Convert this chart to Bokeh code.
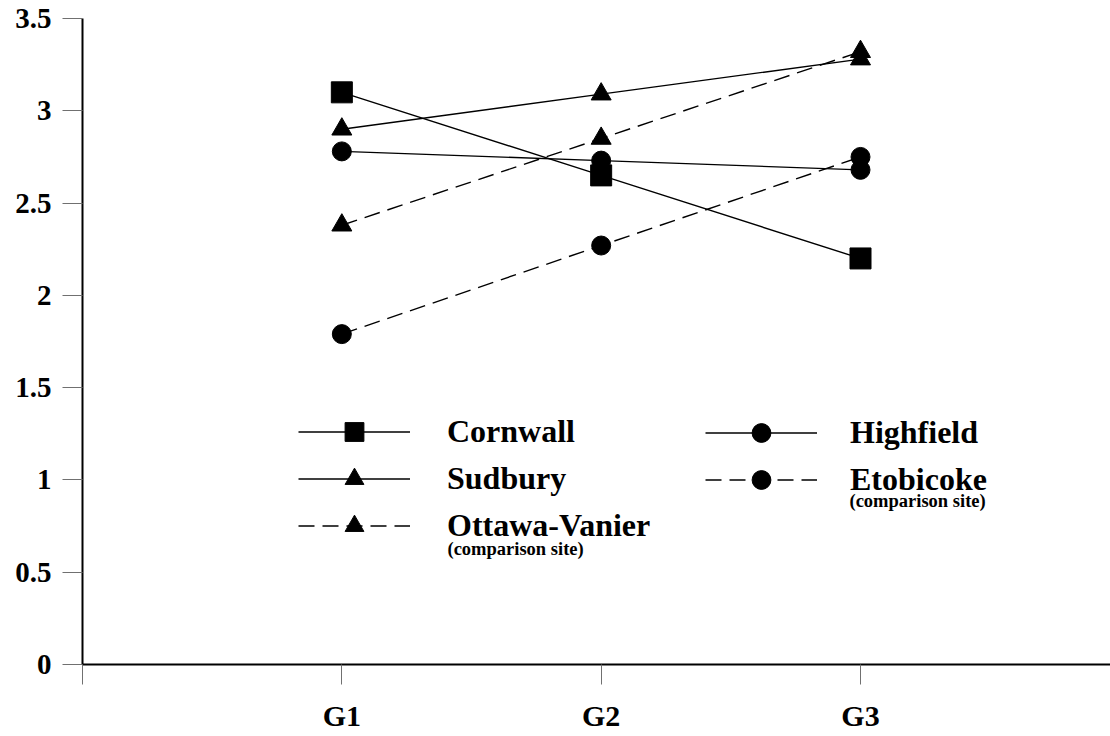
from bokeh.plotting import figure
from bokeh.models import (Range1d, FixedTicker, CustomJSTickFormatter, Legend,
                          LegendItem, Label)
from bokeh.embed import file_html
from bokeh.resources import INLINE

# ---- data ----
groups = ["G1", "G2", "G3"]
cornwall = [3.10, 2.65, 2.20]
sudbury = [2.90, 3.09, 3.28]
ottawa_vanier = [2.38, 2.85, 3.32]
highfield = [2.78, 2.73, 2.68]
etobicoke = [1.79, 2.27, 2.75]
y_ticks = [0, 0.5, 1, 1.5, 2, 2.5, 3, 3.5]

xs = list(range(1, len(groups) + 1))

FONT = "Liberation Serif"

p = figure(width=1110, height=736, output_backend="svg", toolbar_location=None,
           x_range=Range1d(0, 3.964), y_range=Range1d(0, 3.5),
           min_border_left=82, min_border_right=0, min_border_top=18,
           min_border_bottom=72)
p.outline_line_color = None
p.xgrid.visible = False
p.ygrid.visible = False
p.background_fill_color = "white"
p.border_fill_color = "white"

for ax in (p.xaxis[0], p.yaxis[0]):
    ax.axis_line_width = 2
    ax.axis_line_color = "black"
    ax.major_tick_out = 20
    ax.major_tick_in = 0
    ax.major_tick_line_color = "#707070"
    ax.major_tick_line_width = 1
    ax.minor_tick_line_color = None
    ax.major_label_text_font = FONT
    ax.major_label_text_font_style = "bold"
    ax.major_label_text_color = "black"

p.yaxis[0].ticker = FixedTicker(ticks=y_ticks)
p.yaxis[0].formatter = CustomJSTickFormatter(code="return tick.toString()")
p.yaxis[0].major_label_text_font_size = "29px"
p.yaxis[0].major_label_standoff = 11

p.xaxis[0].ticker = FixedTicker(ticks=[0] + xs)
p.xaxis[0].formatter = CustomJSTickFormatter(
    args=dict(labels=groups),
    code="return tick >= 1 ? labels[Math.round(tick) - 1] : ''")
p.xaxis[0].major_label_text_font_size = "30px"
p.xaxis[0].major_label_standoff = 14

DASH = "16 8"

series = [
    ("Cornwall", cornwall, "square", "solid", 21),
    ("Sudbury", sudbury, "triangle", "solid", 20),
    ("Ottawa-Vanier", ottawa_vanier, "triangle", DASH, 20),
    ("Highfield", highfield, "circle", "solid", 19),
    ("Etobicoke", etobicoke, "circle", DASH, 19),
]

items = {}
lines = {}
for name, vals, marker, dash, size in series:
    lr = p.line(xs, vals, line_color="black", line_width=1.4, line_dash=dash)
    lines[name] = lr
for name, vals, marker, dash, size in series:
    sr = p.scatter(xs, vals, marker=marker, size=size, fill_color="black",
                   line_color="black")
    items[name] = LegendItem(label=name, renderers=[lines[name], sr])


def make_legend(names, loc, standoff):
    lg = Legend(items=[items[n] for n in names], location=loc,
                orientation="vertical", glyph_width=112, glyph_height=47,
                label_standoff=standoff, spacing=0, padding=0, margin=0,
                border_line_color=None, background_fill_alpha=0,
                label_text_font=FONT, label_text_font_style="bold",
                label_text_font_size="32px", label_text_color="black",
                label_height=36)
    p.add_layout(lg, "center")
    return lg


make_legend(["Cornwall", "Sudbury", "Ottawa-Vanier"], (216, 115), 37)
make_legend(["Highfield", "Etobicoke"], (623, 161), 33)

for x, y in [(365, 116), (767, 164)]:
    p.add_layout(Label(x=x, y=y, x_units="screen", y_units="screen",
                       text="(comparison site)", text_font=FONT,
                       text_font_style="bold", text_font_size="18.5px",
                       text_baseline="middle", text_color="black"))

open("out.html", "w").write(file_html(p, INLINE))
